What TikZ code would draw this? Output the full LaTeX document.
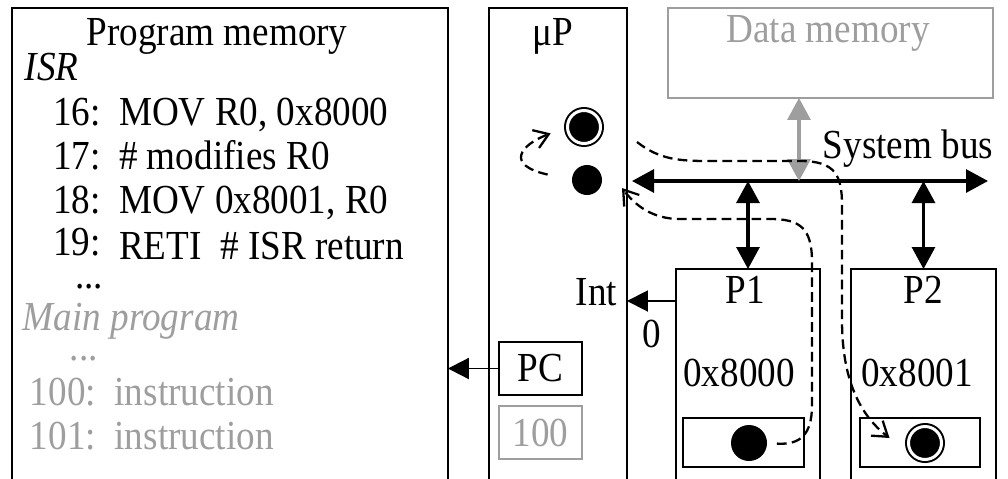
\documentclass[tikz,border=0pt]{standalone}
\usepackage{fontspec}
\setmainfont{Liberation Serif}[FakeStretch=0.9]
\usetikzlibrary{arrows.meta}
\definecolor{dimtext}{RGB}{158,158,158}

\begin{document}
\begin{tikzpicture}[x=0.02cm, y=-0.02cm,
    every node/.style={font=\fontsize{23.5}{26}\selectfont, inner sep=0pt, outer sep=0pt},
    box/.style={draw, line width=1.1pt, anchor=north west},
    greybox/.style={box, draw=dimtext, text=dimtext},
    txt/.style={anchor=base west},
    dim/.style={txt, text=dimtext},
    dot/.style={circle, fill, minimum size=0.6cm},
    ring/.style={circle, fill, draw, line width=0.04cm, double=white, double distance=0.06cm, minimum size=0.66cm},
    bus/.style={line width=1.8pt, {Triangle[length=0.44cm,width=0.46cm]}-{Triangle[length=0.44cm,width=0.46cm]}},
    wire/.style={line width=1.1pt, -{Triangle[length=0.42cm,width=0.42cm]}},
    flow/.style={line width=1.3pt, dash pattern=on 5.5pt off 3pt, -{Straight Barb[length=0.28cm,width=0.38cm]}}]
    \useasboundingbox (0,0) rectangle (1008,478);

    \node[box, minimum width=8.72cm, minimum height=10cm] (pm) at (12,8) {};
    \node[box, minimum width=2.76cm, minimum height=10cm] (mup) at (489,8) {};
    \node[greybox, minimum width=6.5cm, minimum height=1.8cm] (dm) at (668,8) {};
    \node[box, minimum width=2.88cm, minimum height=5cm] (p1) at (676,269) {};
    \node[box, minimum width=2.9cm, minimum height=5cm] (p2) at (851,269) {};
    \node[box, minimum width=2.42cm, minimum height=0.98cm] (in1) at (683,418) {};
    \node[box, minimum width=2.4cm, minimum height=0.98cm] (in2) at (860,418) {};
    \node[box, minimum width=1.66cm, minimum height=1.06cm] (pc) at (499,342) {PC};
    \node[greybox, minimum width=1.66cm, minimum height=1.06cm] (pcval) at (499,406) {100};

    \node[anchor=base] (pmtitle) at (217,45) {Program memory};
    \node[anchor=base] (muptitle) at (553,45) {μP};
    \node[anchor=base, text=dimtext] (dmtitle) at (828,42) {Data memory};
    \node[anchor=base] (bustitle) at (908,158) {System bus};
    \node[anchor=base] (p1title) at (745,303) {P1};
    \node[anchor=base] (p2title) at (923,303) {P2};
    \node[anchor=base] (addr1) at (739,386) {0x8000};
    \node[anchor=base] (addr2) at (917,386) {0x8001};
    \node[anchor=base east] (intlabel) at (617,305) {Int};
    \node[anchor=base] (intval) at (652,347) {0};

    \node[txt] (isr) at (25,80) {\textit{ISR}};
    \node[txt] (line16) at (53,125) {16:\ \ MOV R0, 0x8000};
    \node[txt] (line17) at (53,169) {17:\ \ \# modifies R0};
    \node[txt] (line18) at (53,213) {18:\ \ MOV 0x8001, R0};
    \node[txt] (line19) at (53,259) {\raisebox{0.08cm}{19:}\ \ RETI\ \ \# ISR return};
    \node[txt] (more1) at (75,288) {...};
    \node[dim] (main) at (23,330) {\textit{Main program}};
    \node[dim] (more2) at (70,360) {...};
    \node[dim] (line100) at (30,405) {100:\ \ instruction};
    \node[dim] (line101) at (30,449) {101:\ \ instruction};

    \node[ring] (ringmu) at (584,127) {};
    \node[dot] (dotmu) at (587,180) {};
    \node[dot, minimum size=0.72cm] (dot1) at (749,443) {};
    \node[ring] (ring2) at (925,443) {};

    \coordinate (busL) at (632,181);
    \coordinate (busR) at (988,181);
    \coordinate (r0out) at (637,142);

    \draw[bus] (busL) -- (busR);
    \draw[bus] (p1.north |- busL) -- (p1.north);
    \draw[bus] (p2.north |- busL) -- (p2.north);
    \draw[bus, dimtext] ([xshift=-0.63cm]dm.south) -- ([xshift=-0.63cm]dm.south |- busL);
    \draw[wire] ([yshift=-0.64cm]p1.north west) -- ([yshift=-0.64cm]p1.north west -| mup.east);
    \draw[wire] (pc.west) -- (pc.west -| pm.east);

    \draw[flow, shorten <=0.5cm, shorten >=0.36cm] (dotmu.west) .. controls (505,165) and (520,145) .. (ringmu.west);
    \draw[flow] (r0out) .. controls (660,160) and (680,161) .. (710,161) -- (800,161)
        .. controls (835,161) and (842,175) .. (842,205) -- (842,320)
        .. controls (842,380) and (860,415) .. ([xshift=-0.38cm,yshift=0.1cm]ring2.west);
    \draw[flow, shorten <=0.2cm] (dot1.east) .. controls (800,445) and (812,435) .. (812,405) -- (812,262)
        .. controls (812,228) and (800,219) .. (770,219) -- (680,219)
        .. controls (652,219) and (635,205) .. ([shift={(20,8)}]dotmu.east);
\end{tikzpicture}
\end{document}
